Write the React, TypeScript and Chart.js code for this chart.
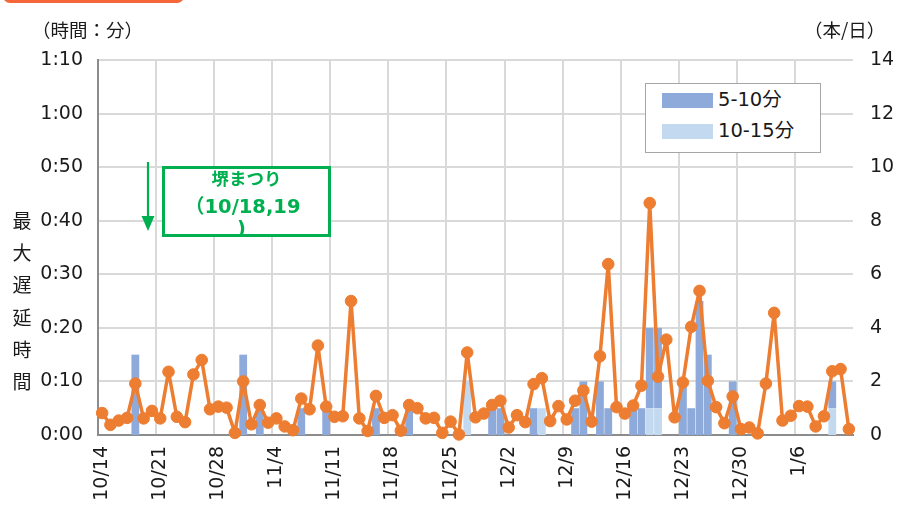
import React, { useEffect, useRef } from 'react';
import { Chart, registerables } from 'chart.js';

Chart.register(...registerables);

// Date categories: 10/14 .. 1/12 (daily)
const monthSpans: [number, number, number][] = [
  [10, 14, 31],
  [11, 1, 30],
  [12, 1, 31],
  [1, 1, 12],
];
const dateLabels: string[] = monthSpans.flatMap(([m, a, b]) =>
  Array.from({ length: b - a + 1 }, (_, i) => `${m}/${a + i}`)
);

// Max delay per day (minutes)
const maxDelayMinutes: number[] = [
  4.1, 1.9, 2.7, 3.2, 9.6, 3.1, 4.5, 3.1, 11.8, 3.4,
  2.4, 11.3, 14.0, 4.8, 5.3, 5.1, 0.4, 10.0, 2.0, 5.6,
  2.3, 3.1, 1.6, 0.9, 6.8, 4.8, 16.7, 5.3, 3.4, 3.5,
  25.0, 3.1, 0.75, 7.3, 3.2, 3.7, 0.8, 5.6, 5.0, 3.1,
  3.2, 0.4, 2.5, 0.1, 15.4, 3.3, 4.0, 5.6, 6.4, 1.4,
  3.7, 2.4, 9.5, 10.6, 2.6, 5.4, 2.9, 6.4, 8.3, 2.5,
  14.7, 31.9, 5.2, 4.0, 5.5, 9.2, 43.3, 10.9, 17.8, 3.3,
  9.8, 20.2, 26.9, 10.1, 5.2, 2.2, 7.2, 1.1, 1.4, 0.3,
  9.6, 22.8, 2.7, 3.6, 5.4, 5.3, 1.6, 3.5, 11.9, 12.3,
  1.1,
];

// Trains per day delayed 5-10 min
const count5to10: number[] = [
  0, 0, 0, 0, 3, 0, 0, 0, 0, 0,
  0, 0, 0, 0, 0, 0, 0, 3, 0, 1,
  0, 0, 0, 0, 1, 0, 0, 1, 0, 0,
  0, 0, 0, 1, 0, 0, 0, 1, 0, 0,
  0, 0, 0, 0, 0, 0, 0, 1, 1, 0,
  0, 0, 1, 0, 0, 0, 0, 1, 2, 0,
  2, 1, 0, 0, 1, 1, 3, 3, 0, 0,
  2, 1, 5, 3, 0, 0, 2, 0, 0, 0,
  0, 0, 0, 0, 0, 0, 0, 0, 1, 0,
  0,
];

// Trains per day delayed 10-15 min
const count10to15: number[] = [
  0, 0, 0, 0, 0, 0, 0, 0, 0, 0,
  0, 0, 0, 0, 0, 0, 0, 0, 0, 0,
  0, 0, 0, 0, 0, 0, 0, 0, 0, 0,
  0, 0, 0, 0, 0, 0, 0, 0, 0, 0,
  0, 0, 0, 0, 2, 0, 0, 0, 0, 0,
  0, 0, 0, 1, 0, 0, 0, 0, 0, 0,
  0, 0, 0, 0, 0, 0, 1, 1, 0, 0,
  0, 0, 0, 0, 0, 0, 0, 0, 0, 0,
  0, 0, 0, 0, 0, 0, 0, 0, 1, 0,
  0,
];

const leftTicks: number[] = [0, 10, 20, 30, 40, 50, 60, 70];
const rightTicks: number[] = [0, 2, 4, 6, 8, 10, 12, 14];

const DARK = '#8EAADB';
const LIGHT = '#C3D9F0';
const ORANGE = '#ED7D31';
const GREEN = '#00B050';
const GRID = '#D9D9D9';
const AXIS = '#8C8C8C';
const TEXT = '#1a1a1a';
const LATIN = "'DejaVu Sans', 'Noto Sans CJK JP', sans-serif";
const CJK = "'Noto Sans CJK JP', 'DejaVu Sans', sans-serif";

const fmtTime = (v: number) => `${Math.floor(v / 60)}:${String(v % 60).padStart(2, '0')}`;

export default function App() {
  const ref = useRef<HTMLCanvasElement | null>(null);

  useEffect(() => {
    document.body.style.margin = '0';
    if (!ref.current) return;
    const chart = new Chart(ref.current, {
      data: {
        labels: dateLabels,
        datasets: [
          {
            type: 'line',
            label: '最大遅延時間',
            data: maxDelayMinutes,
            yAxisID: 'y',
            borderColor: ORANGE,
            backgroundColor: ORANGE,
            borderWidth: 3.5,
            borderJoinStyle: 'round',
            borderCapStyle: 'round',
            pointRadius: 5.8,
            pointBorderWidth: 1,
            pointBackgroundColor: ORANGE,
            pointBorderColor: ORANGE,
            tension: 0,
            clip: false as any,
            order: 0,
          } as any,
          {
            type: 'bar',
            label: '10-15分',
            data: count10to15,
            yAxisID: 'y1',
            backgroundColor: LIGHT,
            borderWidth: 0,
            barPercentage: 0.94,
            categoryPercentage: 1,
            order: 1,
          },
          {
            type: 'bar',
            label: '5-10分',
            data: count5to10,
            yAxisID: 'y1',
            backgroundColor: DARK,
            borderWidth: 0,
            barPercentage: 0.94,
            categoryPercentage: 1,
            order: 1,
          },
        ],
      },
      options: {
        responsive: false,
        animation: false,
        layout: { padding: { top: 60, left: 0, right: 0, bottom: 0 } },
        plugins: { legend: { display: false }, tooltip: { enabled: false } },
        scales: {
          x: {
            type: 'category',
            stacked: true,
            offset: true,
            afterFit: (s: any) => { s.height = 76; },
            grid: {
              offset: true,
              drawTicks: false,
              lineWidth: 2,
              color: (ctx: any) => (ctx.index % 7 === 0 ? GRID : 'rgba(0,0,0,0)'),
            },
            border: { display: true, color: AXIS, width: 2 },
            ticks: {
              autoSkip: false,
              maxRotation: 90,
              minRotation: 90,
              padding: 11,
              color: TEXT,
              font: { family: LATIN, size: 19 },
              callback: (_v: any, i: number) => (i % 7 === 0 ? dateLabels[i] : ''),
            },
          },
          y: {
            position: 'left',
            min: 0,
            max: 70,
            afterFit: (s: any) => { s.width = 98; },
            afterBuildTicks: (s: any) => { s.ticks = leftTicks.map((v) => ({ value: v })); },
            grid: { color: GRID, lineWidth: 2, drawTicks: false },
            border: { display: true, color: AXIS, width: 2 },
            ticks: {
              padding: 15,
              color: TEXT,
              font: { family: LATIN, size: 19 },
              callback: (v: any) => fmtTime(Number(v)),
            },
          },
          y1: {
            position: 'right',
            stacked: true,
            min: 0,
            max: 14,
            afterFit: (s: any) => { s.width = 51; },
            afterBuildTicks: (s: any) => { s.ticks = rightTicks.map((v) => ({ value: v })); },
            grid: { display: false, drawTicks: false },
            border: { display: false },
            ticks: {
              padding: 17,
              color: TEXT,
              font: { family: LATIN, size: 19 },
            },
          },
        },
      } as any,
    });
    return () => chart.destroy();
  }, []);

  const yTitle = '最大遅延時間'.split('');

  return (
    <div style={{ position: 'fixed', left: 0, top: 0, width: 904, height: 511, background: '#fff', overflow: 'hidden' }}>
      <canvas ref={ref} width={904} height={511} style={{ position: 'absolute', left: 0, top: 0, width: 904, height: 511 }} />
      {/* orange tab at top */}
      <div style={{ position: 'absolute', left: 3, top: -17, width: 181, height: 20, borderRadius: 7, background: '#F5673A' }} />
      {/* unit labels */}
      <div style={{ position: 'absolute', left: 32, top: 15, fontFamily: CJK, fontSize: 18.5, lineHeight: '28px', color: TEXT, whiteSpace: 'nowrap' }}>（時間：分）</div>
      <div style={{ position: 'absolute', left: 804, top: 15, fontFamily: CJK, fontSize: 18.5, lineHeight: '28px', color: TEXT, whiteSpace: 'nowrap' }}>（本/日）</div>
      {/* y title vertical */}
      <div style={{ position: 'absolute', left: 9, top: 204, width: 26, fontFamily: CJK, fontSize: 19, lineHeight: '32.2px', color: TEXT, textAlign: 'center' }}>
        {yTitle.map((c, i) => (<div key={i}>{c}</div>))}
      </div>
      {/* legend */}
      <div style={{ position: 'absolute', left: 645, top: 83, width: 174, height: 68, border: '1px solid #A6A6A6', background: '#fff' }}>
        <div style={{ position: 'absolute', left: 16, top: 9, width: 51, height: 15, background: DARK }} />
        <div style={{ position: 'absolute', left: 72, top: 3, fontFamily: LATIN, fontSize: 19.5, lineHeight: '26px', color: TEXT, whiteSpace: 'nowrap' }}>5-10分</div>
        <div style={{ position: 'absolute', left: 16, top: 40, width: 51, height: 15, background: LIGHT }} />
        <div style={{ position: 'absolute', left: 72, top: 34, fontFamily: LATIN, fontSize: 19.5, lineHeight: '26px', color: TEXT, whiteSpace: 'nowrap' }}>10-15分</div>
      </div>
      {/* annotation arrow */}
      <svg width={904} height={511} style={{ position: 'absolute', left: 0, top: 0, pointerEvents: 'none' }}>
        <line x1={148} y1={162} x2={148} y2={220} stroke={GREEN} strokeWidth={2.2} />
        <polygon points="141.5,216 154.5,216 148,231" fill={GREEN} />
      </svg>
      {/* annotation box */}
      <div style={{ position: 'absolute', left: 162, top: 166, width: 163, height: 65, border: `3px solid ${GREEN}`, background: '#fff', overflow: 'hidden', color: GREEN, fontWeight: 'bold' }}>
        <div style={{ position: 'absolute', left: 0, width: 163, top: -3, textAlign: 'center', fontFamily: CJK, fontSize: 17.5, lineHeight: '24px', whiteSpace: 'nowrap' }}>堺まつり</div>
        <div style={{ position: 'absolute', left: 20, top: 24, fontFamily: LATIN, fontSize: 19.5, lineHeight: '24px', whiteSpace: 'nowrap' }}>
          <span style={{ fontFamily: CJK }}>（</span>10/18,19
        </div>
        <div style={{ position: 'absolute', left: 72, top: 48, fontFamily: LATIN, fontSize: 19.5, lineHeight: '24px', whiteSpace: 'nowrap' }}>)</div>
      </div>
    </div>
  );
}
